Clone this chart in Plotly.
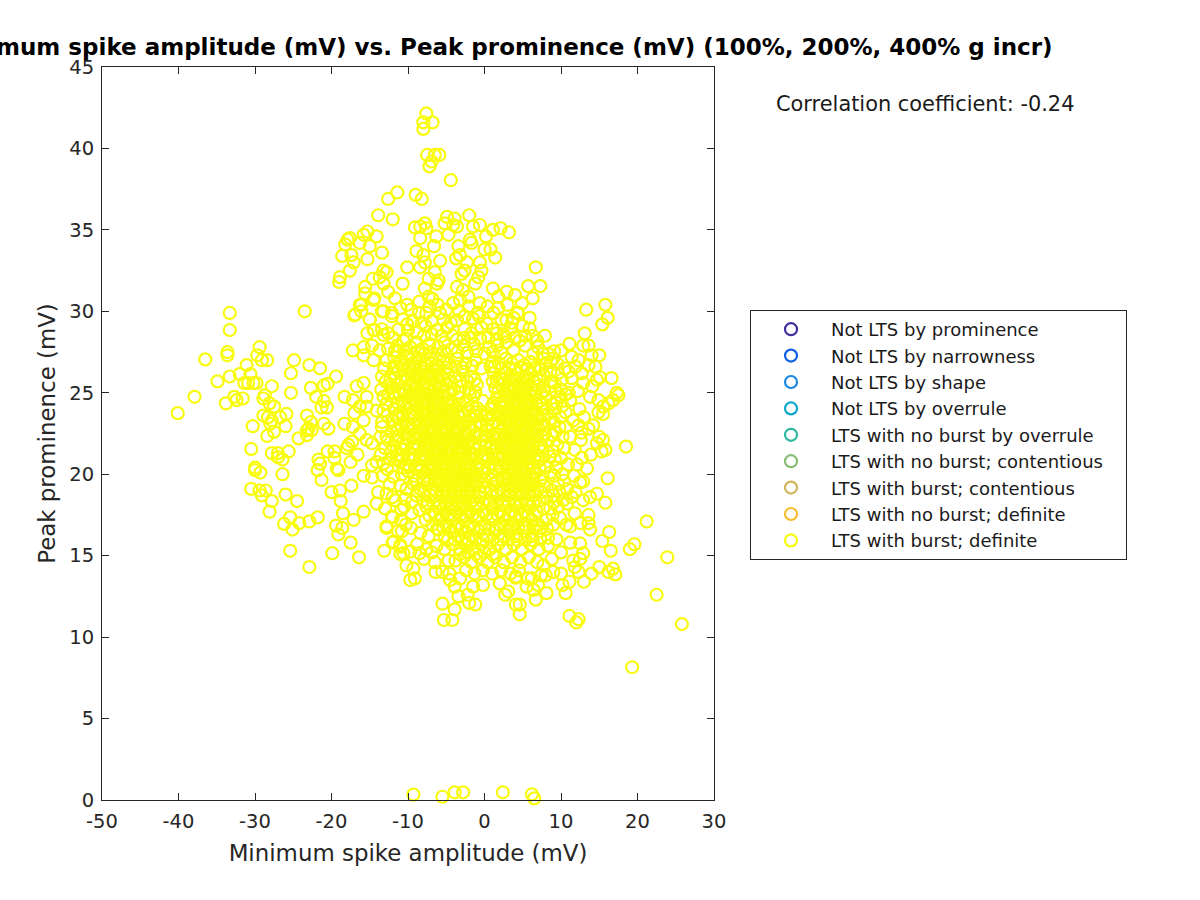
import plotly.graph_objects as go

# (minimum spike amplitude mV, peak prominence mV)
left_arm = [(-33.3,29.9),(-33.3,28.85),(-33.6,27.5),(-33.6,27.3),(-29.4,27.8),(-29.7,27.3),(-36.5,27.05),(-29.1,27.0),(-28.4,27.0),(-24.9,27.0),(-23.5,30.0),(-22.9,26.7),(-21.5,26.5),(-19.4,26.0),(-25.3,26.2),(-31.1,26.7),(-32,26.15),(-33.3,26.0),(-34.9,25.7),(-30.6,26.15),(-31.4,25.6),(-30.9,25.6),(-30.2,25.6),(-29.8,25.6),(-27.8,25.4),(-28.7,24.85),(-28.9,24.65),(-37.9,24.75),(-40.1,23.75),(-33.8,24.35),(-32.7,24.75),(-32.4,24.55),(-31.6,24.65),(-28.1,24.35),(-27.5,24.15),(-28.9,23.6),(-28.3,23.5),(-27.8,23.3),(-26.7,23.5),(-25.9,23.7),(-28.0,23.1),(-30.3,22.95),(-26,22.95),(-27.5,22.6),(-28.4,22.35),(-24.3,22.2),(-23.2,23.6),(-22.7,23.2),(-23,22.8),(-23.2,22.7),(-22.6,22.7),(-23.2,22.4),(-21,23.1),(-20.4,22.8),(-25.3,25),(-22.7,25.3),(-21,25.45),(-20.5,25.55),(-22,24.75),(-21,24.5),(-21.3,24.1),(-20.6,24.1),(-18.3,23.1),(-18.3,24.75),(-30.5,21.55),(-27.8,21.3),(-27,21.3),(-27,21.05),(-26.4,20.9),(-25.6,21.4),(-20.5,21.4),(-19.6,21.4),(-19.6,21.0),(-21.7,20.9),(-21.5,20.65),(-21.8,20.25),(-19.3,20.35),(-19.1,20.25),(-30,20.4),(-30,20.25),(-29.3,20.1),(-26.4,20),(-21.3,19.65),(-17.5,20.75),(-16.6,21.2),(-17.8,21.8),(-18,21.6),(-17.3,22),(-15.8,19.9),(-14.7,19.8),(-17.4,19.3),(-18.9,19),(-20,18.9),(-18.8,18.35),(-30.5,19.1),(-29.4,19),(-28.6,19),(-29.1,18.7),(-27.8,18.35),(-26,18.75),(-24.5,18.35),(-28.1,17.7),(-25.4,17.35),(-24.2,17),(-26.2,16.95),(-25.1,16.6),(-22.9,17.1),(-21.8,17.35),(-18.5,17.6),(-15.8,17.7),(-17.1,17.2),(-19.4,16.85),(-18.6,16.7),(-19.1,16.3),(-17.5,15.8),(-25.4,15.3),(-19.9,15.15),(-16.4,14.9),(-22.9,14.3),(-13.1,15.3),(-12,15.8),
(-16.7,25.4),(-15.8,25.6),(-15.4,24.75),(-17.2,24.55),(-16.3,24.15),(-15.4,24.15),(-14.1,23.9),(-17,23.75),(-15.8,23.3),(-13.4,23.2),(-17.2,22.9),(-16.3,22.5),(-15.4,22.1),(-14.7,21.9),(-13.6,22.3),(-12.8,22.3),(-11.9,23.3),(-13.2,24.75),(-12.8,24.35),(-11.9,24.75),(-13.4,26),(-12.3,25.8),(-17.2,27.6),(-15.8,27.8),(-15.8,27.3),(-14.7,27.9),(-14.5,27),(-13.7,27.6),(-12.8,27),(-15.3,28.65),(-14.4,28.85),(-15,29.5),(-17,29.75),(-16.1,30),(-16.1,30.4),(-14.5,30.7),(-13.2,30),(-12.1,29.7),(-12.6,28.65),(-12,28.4),(-11.7,27.6),(-11.9,26.6),(-14.1,20.75),(-13.2,20.65),(-14.7,20.55),(-13.6,21.2),(-12.3,20.9),(-11.9,19.85),(-13.9,18.9),(-12.8,18.8),(-12,18.6),(-14.1,18.2),(-13,17.9),(-11.7,18.4),(-12.1,17.4),(-12.8,16.8),(-11.3,16.5),(-11,15.55),(-11,15.1)]

top_arm = [(-7.6,42.15),(-8,41.6),(-6.8,41.6),(-8,41.2),(-7.5,39.6),(-5.9,39.6),(-6.5,39.6),(-6.9,39.2),(-7.2,38.9),(-4.4,38.05),(-11.4,37.3),(-12.6,36.9),(-9,37.15),(-8.2,36.9),(-13.9,35.9),(-12,35.65),(-2,35.9),(-4.9,35.8),(-3.9,35.7),(-9.1,35.15),(-7.8,35.4),(-8.4,35.2),(-7.6,35.1),(-5.2,35.4),(-4.1,35.3),(-3.6,35.2),(-1.5,35.2),(-0.6,35.3),(1.1,35),(2.1,35.1),(3.2,34.85),(0.2,34.6),(-8.4,34.5),(-6.3,34.6),(-4.7,34.7),(-6.6,34),(-1.9,34.4),(-1.7,34.2),(-3.4,34),(-8.9,33.7),(-8,33.45),(0,33.8),(0.8,33.8),(1.4,33.3),(-3.2,33.45),(-3.7,33.25),(-5.8,33.1),(-7.8,33),(-10.1,32.7),(-8.4,32.7),(-2.3,33),(-2.6,32.5),(-3,32.3),(-0.6,33),(-0.4,32.5),(-0.8,32.1),(6.7,32.7),(-13.4,33.6),(-15.3,33.2),(-14.1,34.6),(-15.3,34.9),(-15.8,34.7),(-15,34),(-16.3,34.2),(-17.4,33.45),(-17.1,33),(-17.6,32.5),(-17.6,34.5),(-18.2,34.1),(-18.6,33.4),(-17.9,34.4),(-18.9,32.1),(-19,31.8),(-13.2,32.5),(-12.8,32.4),(-13.7,32.1),(-14.6,32),(-15.6,31.5),(-15.6,31.1),(-14.4,30.8),(-13.2,31.7),(-12.6,31.2),(-11.7,30.8),(-10.7,31.7),(-10.1,30.4),(-16.3,30.4),(-16.9,29.8),(-15,29.5),(-14.5,28.85),(-7.3,32),(-6,31.9),(-6.5,32.4),(-7.8,31.4),(-7.3,30.9),(-6.8,30.75),(-6.2,31.7),(-3.6,31.5),(-2.8,31.3),(-1.2,31.7),(-3.2,30.7),(-2.1,30.9),(-0.6,30.5),(1.1,31.4),(1.8,30.9),(2.9,31.2),(4,31),(5.7,31.55),(7.3,31.55),(6.3,30.8),(1.2,29.9),(4.4,29.9),(5.9,29.6),(5.9,28.95),(7.9,28.5),(11.1,28),(13.1,28.65),(13.3,30.1),(-8.6,29.9),(-7.6,29.9),(-5.8,29.9),(-12.1,29.9),(-13.4,30),(-13.2,28.55),(-10,28.85),(-6.2,28.85),(-3.6,29.45),(-1.5,29.55),(2.9,29.45),(0.3,29.25),(-1.7,28.65),(1.6,28.65),(4.6,28.2),(-3.6,28.25)]

right_arm = [(15.8,30.4),(16.1,29.6),(15.4,29.2),(4.3,29.9),(12.9,27.9),(13.6,27.9),(7.6,27.4),(9.1,27.55),(11.4,27.2),(12.3,27),(14,27.3),(15,27.3),(9.5,26.8),(13.6,26.7),(14.5,26.6),(8.6,26.3),(11,26.3),(11.4,25.9),(10.1,25.8),(15.1,25.95),(14.7,25.8),(16.6,25.9),(14.1,25.4),(17.3,25),(17.5,24.85),(16.8,24.55),(16.2,24.35),(13.8,24.75),(14.9,24.55),(15.5,24.15),(14.9,23.8),(15.5,23.7),(12.4,24),(11,25),(11.2,24.55),(9.9,24.75),(11.6,23.3),(14.2,23),(13.6,22.8),(12.7,22.55),(15,22.3),(15.5,22.1),(14.7,21.9),(18.5,21.7),(15.8,21.5),(15.3,21.4),(13.9,21.2),(11.2,22.3),(11.8,21.5),(9.2,20.9),(13.4,20.35),(16.1,19.75),(12.9,19.55),(12.5,19.5),(14.7,18.8),(13.8,18.6),(15.8,18.25),(12.9,18.4),(13.6,17.5),(13.6,17),(11.8,17.6),(10.3,18.4),(8.6,17.9),(10.6,23.8),(9.8,22.9),(10.4,21.6),(10.9,20.6),(11.7,19.9),(9.6,19.4),(10.8,19.1),(9.9,17.3),(10.7,16.9)]

bottom_arm = [(-9.3,0.33),(-5.5,0.2),(-3.9,0.47),(-2.8,0.47),(2.4,0.47),(6.2,0.35),(6.5,0.1),(19.3,8.15),(25.8,10.8),(22.5,12.6),(23.9,14.9),(21.2,17.1),(19.6,15.7),(19,15.4),(16.5,15.3),(16.3,16.45),(15.4,15.9),(17.1,13.85),(16.8,14.2),(16.2,14),(15,14.3),(14,13.9),(13,13.4),(12.5,14.8),(12.9,15.15),(11.6,14.7),(11.8,14.3),(12.3,14),(11.1,13.4),(10.2,13.2),(10.6,12.7),(11.1,11.3),(12,10.9),(12.3,11.1),(10,13.9),(9,14),(8,13.8),(8.1,12.7),(6.7,12.3),(6.4,12.9),(7,13.2),(5.7,13.6),(4.6,12),(4.6,11.4),(4.1,12),(2.7,12.6),(3.1,12.8),(-1.2,12),(-2,12.1),(-2.2,12.6),(-3.4,12.5),(-3.9,11.7),(-5.5,12.05),(-5.3,11.05),(-4.2,11.05),(-3.9,13.1),(-4.5,13.5),(-5.5,14),(-6.4,14),(-9.3,14.2),(-9.1,13.6),(-9.7,13.5),(-10.2,14.4),(-8.5,15.15),(-9.7,15.25),(-10.6,15.15),(-11,15.65),(-11.9,15.85),(-10.8,16.5),(-12.8,16.7),(-12,17.35),(-9.5,18.3),(-9.5,17.6),(-8.4,16.4),(-6,16.6),(-4.7,14.7),(-3.2,13.6),(-1.5,13.1),(-0.2,13.2),(2,13.3),(5.5,13.1),(6.2,13.6),(7.7,14.4),(9.4,16),(11.2,15.8),(12.5,15.75),(13.8,16.6),(12.5,17),(11.2,16.8),(4.15,13.7),(4.05,13.65)]

core_upper = [
(-11.2,28.9),(-10.1,29.2),(-8.8,28.7),(-7.7,29.1),(-6.9,28.6),(-4.9,29),(-2.6,28.9),(-0.4,29),(3.4,28.9),(6.9,28.2),
(-11.4,27.9),(-10.6,28.2),(-9.7,27.8),(-8.9,28.1),(-8.1,27.7),(-7.2,28),(-6.1,27.8),(-5.2,28.1),(-4.3,27.7),(-2.7,27.9),(-1.4,28),(0.6,27.8),(1.7,27.9),(2.9,28.1),(3.8,27.6),(5.3,27.9),(6.4,27.4),(7.7,27.1),
(-11.8,27.2),(-11,26.9),(-10.2,27.2),(-9.4,26.8),(-8.6,27.1),(-7.8,26.8),(-7,27.1),(-6.2,26.7),(-5.4,27),(-4.6,26.8),(-3.6,27.1),(-2.5,26.8),(-1.2,27),(1,26.9),(1.9,26.8),(2.8,27.1),(3.6,26.8),(4.4,27),(5.2,26.7),(6,26.9),(7,26.6),(8,26.8),
(-12,26.2),(-11.2,26.4),(-10.4,26),(-9.6,26.3),(-8.8,26),(-8,26.3),(-7.2,26),(-6.4,26.3),(-5.6,26),(-4.8,26.2),(-3.8,26),(-2.8,26.3),(-1.8,26),(1.2,26.2),(2,25.9),(2.8,26.2),(3.6,25.9),(4.4,26.2),(5.2,25.9),(6,26.2),(6.8,25.9),(7.7,26.1),(8.8,25.7),
(-12.2,25.3),(-11.4,25.5),(-10.6,25.2),(-9.8,25.5),(-9,25.2),(-8.2,25.5),(-7.4,25.2),(-6.6,25.5),(-5.8,25.2),(-5,25.5),(-4,25.2),(-3,25.4),(-2,25.2),(-1,25.5),(1.4,25.3),(2.2,25.5),(3,25.2),(3.8,25.5),(4.6,25.2),(5.4,25.5),(6.2,25.2),(7,25.4),(7.8,25.1),(8.7,25.4),
(-11.6,24.7),(-10.8,24.5),(-10,24.8),(-9.2,24.5),(-8.4,24.8),(-7.6,24.5),(-6.8,24.8),(-6,24.5),(-5.2,24.8),(-4.4,24.5),(-3.4,24.7),(-2.4,24.5),(-1.4,24.8),(-0.2,24.5),(1.6,24.7),(2.4,24.5),(3.2,24.8),(4,24.5),(4.8,24.8),(5.6,24.5),(6.4,24.8),(7.2,24.5),(8,24.7),(8.9,24.3),
(-11.8,24),(-11,23.8),(-10.2,24.1),(-9.4,23.8),(-8.6,24.1),(-7.8,23.8),(-7,24.1),(-6.2,23.8),(-5.4,24.1),(-4.6,23.8),(-3.8,24.1),(-3,23.8),(-2.2,24),(-1.2,23.8),(0.9,24),(1.8,23.8),(2.6,24.1),(3.4,23.8),(4.2,24.1),(5,23.8),(5.8,24.1),(6.6,23.8),(7.4,24),(8.3,23.7),(9.2,24),
(-11.2,23.4),(-10.4,23.2),(-9.6,23.5),(-8.8,23.2),(-8,23.5),(-7.2,23.2),(-6.4,23.5),(-5.6,23.2),(-4.8,23.5),(-4,23.2),(-3.2,23.5),(-2.4,23.2),(-1.6,23.4),(-0.6,23.2),(0.6,23.4),(1.4,23.2),(2.2,23.5),(3,23.2),(3.8,23.5),(4.6,23.2),(5.4,23.5),(6.2,23.2),(7,23.4),(7.8,23.1),(8.7,23.4),
(-12.1,22.6),(-11.3,22.8),(-10.5,22.5),(-9.7,22.8),(-8.9,22.5),(-8.1,22.8),(-7.3,22.5),(-6.5,22.8),(-5.7,22.5),(-4.9,22.8),(-4.1,22.5),(-3.3,22.8),(-2.5,22.5),(-1.7,22.8),(-0.9,22.5),(0.3,22.7),(1.5,22.5),(2.3,22.8),(3.1,22.5),(3.9,22.8),(4.7,22.5),(5.5,22.8),(6.3,22.5),(7.1,22.8),(7.9,22.5),(8.9,22.4),
]

core_lower = [
(-11.6,22.1),(-10.8,21.9),(-10,22.2),(-9.2,21.9),(-8.4,22.2),(-7.6,21.9),(-6.8,22.2),(-6,21.9),(-5.2,22.2),(-4.4,21.9),(-3.6,22.2),(-2.8,21.9),(-2,22.1),(-1.2,21.9),(-0.3,22.1),(0.9,21.9),(1.8,22.1),(2.6,21.9),(3.4,22.2),(4.2,21.9),(5,22.2),(5.8,21.9),(6.6,22.1),(7.4,21.8),(8.3,22.1),
(-12.2,21.4),(-11.4,21.2),(-10.6,21.5),(-9.8,21.2),(-9,21.5),(-8.2,21.2),(-7.4,21.5),(-6.6,21.2),(-5.8,21.5),(-5,21.2),(-4.2,21.5),(-3.4,21.2),(-2.6,21.5),(-1.8,21.2),(-1,21.5),(0,21.2),(1.1,21.4),(2,21.2),(2.8,21.5),(3.6,21.2),(4.4,21.5),(5.2,21.2),(6,21.5),(6.8,21.2),(7.6,21.4),(8.5,21.1),
(-11.1,20.8),(-10.3,20.6),(-9.5,20.9),(-8.7,20.6),(-7.9,20.9),(-7.1,20.6),(-6.3,20.9),(-5.5,20.6),(-4.7,20.9),(-3.9,20.6),(-3.1,20.9),(-2.3,20.6),(-1.5,20.9),(-0.7,20.6),(0.2,20.8),(1.3,20.6),(2.2,20.9),(3,20.6),(3.8,20.9),(4.6,20.6),(5.4,20.9),(6.2,20.6),(7,20.8),(7.9,20.5),
(-10.8,20),(-10,20.2),(-9.2,19.9),(-8.4,20.2),(-7.6,19.9),(-6.8,20.2),(-6,19.9),(-5.2,20.2),(-4.4,19.9),(-3.6,20.2),(-2.8,19.9),(-2,20.2),(-1.2,19.9),(-0.2,20.1),(1,19.9),(1.9,20.2),(2.7,19.9),(3.5,20.2),(4.3,19.9),(5.1,20.2),(5.9,19.9),(6.7,20.1),(7.6,19.8),(8.6,20.1),
(-11,19.3),(-10.2,19.1),(-9.3,19.4),(-8.4,19.1),(-7.5,19.4),(-6.7,19.1),(-5.9,19.4),(-5.1,19.1),(-4.3,19.4),(-3.5,19.1),(-2.7,19.4),(-1.9,19.1),(-1.1,19.4),(0,19.2),(1.2,19.4),(2.1,19.1),(2.9,19.4),(3.7,19.1),(4.5,19.4),(5.3,19.1),(6.1,19.4),(6.9,19.1),(7.8,19.3),(8.8,19),
(-10.4,18.5),(-8.9,18.7),(-8,18.4),(-7.1,18.7),(-6.3,18.4),(-5.5,18.7),(-4.7,18.4),(-3.9,18.7),(-3.1,18.4),(-2.3,18.7),(-1.5,18.4),(-0.6,18.6),(0.6,18.4),(1.6,18.7),(2.4,18.4),(3.2,18.7),(4,18.4),(4.8,18.7),(5.6,18.4),(6.4,18.7),(7.2,18.4),(8.1,18.6),(9.1,18.3),
(-10.9,17.8),(-8.5,17.8),(-7.6,18),(-6.7,17.7),(-5.9,18),(-5.1,17.7),(-4.3,18),(-3.5,17.7),(-2.7,18),(-1.9,17.7),(-1.1,18),(-0.1,17.7),(1,17.9),(2,17.7),(2.8,18),(3.6,17.7),(4.4,18),(5.2,17.7),(6,18),(6.8,17.7),(7.7,17.9),
(-10.3,16.9),(-7.7,17.2),(-6.8,16.9),(-5.9,17.2),(-5,16.9),(-4.2,17.2),(-3.4,16.9),(-2.6,17.2),(-1.8,16.9),(-1,17.2),(0,16.9),(1,17.2),(1.9,16.9),(2.8,17.2),(3.6,16.9),(4.4,17.2),(5.3,16.9),(6.2,17.2),(7.1,16.9),(8.1,17.2),(9,16.9),
(-7.3,16.2),(-5.2,16.2),(-4.3,16.5),(-3.4,16.2),(-2.5,16.5),(-1.6,16.2),(-0.7,16.5),(0.3,16.2),(1.4,16.5),(2.4,16.2),(3.3,16.5),(4.2,16.2),(5.2,16.5),(6.2,16.2),(7.2,16.5),(8.3,16.1),
(-7.6,15.4),(-6.3,15.6),(-5.2,15.4),(-4.2,15.7),(-3.2,15.4),(-2.3,15.7),(-1.4,15.4),(-0.4,15.7),(0.7,15.4),(1.8,15.7),(2.8,15.4),(3.8,15.7),(4.9,15.4),(6,15.7),(7.1,15.4),(8.3,15.6),(10,15.2),
(-3.8,14.7),(-2.7,14.9),(-1.7,14.6),(-0.7,14.9),(0.4,14.6),(1.4,14.9),(2.5,14.6),(3.6,14.9),(4.7,14.6),(5.8,14.9),(6.9,14.6),(8.8,14.8),
(-4.6,13.9),(-2.4,14.1),(-1.3,13.9),(-0.2,14.1),(1,13.9),(2.2,14.1),(3.4,13.9),(4.5,14.1),(7.4,13.8),
]

dense_left_lobe = [
(-11.4,27.5),(-10.5,27.6),(-9.6,27.4),(-8.7,27.55),(-7.9,27.35),(-7,27.5),(-6.1,27.35),(-5.3,27.55),
(-11.5,26.6),(-10.7,26.7),(-9.9,26.55),(-9,26.6),(-8.3,26.55),(-7.5,26.65),(-6.7,26.5),(-5.9,26.55),(-5,26.55),
(-11.7,25.9),(-10.9,25.75),(-10,25.85),(-9.2,25.7),(-8.4,25.8),(-7.7,25.65),(-6.9,25.85),(-6.1,25.7),(-5.3,25.8),(-4.4,25.7),
(-11.9,25),(-11.1,24.95),(-10.3,25.05),(-9.5,24.95),(-8.7,25),(-7.9,24.95),(-7.1,25.05),(-6.3,24.95),(-5.5,25.05),(-4.6,24.95),
(-11.3,24.35),(-10.5,24.3),(-9.7,24.35),(-8.9,24.25),(-8.1,24.35),(-7.3,24.25),(-6.5,24.35),(-5.7,24.25),(-4.9,24.35),(-4.1,24.25),(-3.2,24.3),
(-11.5,23.55),(-10.7,23.65),(-9.9,23.65),(-9.1,23.6),(-8.3,23.7),(-7.5,23.65),(-6.7,23.65),(-5.9,23.6),(-5.1,23.65),(-4.3,23.55),(-3.5,23.65),(-2.7,23.55),
(-11.7,23),(-10.9,22.95),(-10.1,23),(-9.3,22.95),(-8.5,22.95),(-7.7,23),(-6.9,22.95),(-6.1,23),(-5.3,22.95),(-4.5,23),(-3.7,22.95),(-2.9,23),(-2.1,22.95),(-1.2,23),
(-11.2,22.35),(-10.1,22.45),(-9.3,22.35),(-8.5,22.4),(-7.7,22.35),(-6.9,22.45),(-6.1,22.35),(-5.3,22.45),(-4.5,22.35),(-3.7,22.45),(-2.9,22.35),(-2.1,22.4),(-1.3,22.35),
(-11.9,21.7),(-11,21.65),(-10.2,21.75),(-9.4,21.65),(-8.6,21.75),(-7.8,21.65),(-7,21.75),(-6.2,21.65),(-5.4,21.75),(-4.6,21.65),(-3.8,21.75),(-3,21.65),(-2.2,21.75),(-1.4,21.65),(-0.6,21.75),
(-11.5,20.95),(-10.7,21),(-9.9,21),(-9.1,20.95),(-8.3,21),(-7.5,21),(-6.7,20.95),(-5.9,21),(-5.1,20.95),(-4.3,21),(-3.5,20.95),(-2.7,21),(-1.9,20.95),(-1.1,21),
(-10.6,20.4),(-9.8,20.45),(-9,20.4),(-8.2,20.4),(-7.4,20.45),(-6.6,20.4),(-5.8,20.45),(-5,20.4),(-4.2,20.45),(-3.4,20.4),(-2.6,20.45),(-1.8,20.4),(-1,20.4),
]

dense_mid_column = [
(-8.9,19.6),(-8,19.65),(-7.2,19.6),(-6.4,19.65),(-5.6,19.65),(-4.8,19.6),(-4,19.7),(-3.2,19.65),(-2.4,19.6),(-1.6,19.7),(-0.8,19.6),
(-8.7,18.95),(-7.9,18.9),(-7.1,18.95),(-6.3,18.9),(-5.5,18.95),(-4.7,18.9),(-3.9,18.95),(-3.1,18.9),(-2.3,18.95),(-1.5,18.9),(-0.7,18.9),
(-7.5,18.2),(-6.7,18.25),(-5.9,18.2),(-5.1,18.25),(-4.3,18.2),(-3.5,18.25),(-2.7,18.2),(-1.9,18.25),(-1.1,18.2),(-0.2,18.25),
(-7.2,17.45),(-6.4,17.5),(-5.6,17.45),(-4.8,17.5),(-4,17.45),(-3.2,17.5),(-2.4,17.45),(-1.6,17.5),(-0.8,17.45),(0.2,17.5),
(-6.2,16.65),(-5.4,16.75),(-4.6,16.7),(-3.8,16.75),(-3,16.7),(-2.2,16.75),(-1.4,16.7),(-0.5,16.75),(0.6,16.7),
(-4.8,15.95),(-3.9,16),(-3,15.95),(-2.1,16),(-1.2,15.95),(-0.2,16),(1,15.95),(2.1,16),
(-3.2,15.1),(-2.2,15.2),(-1.1,15.1),(0,15.2),(1.1,15.1),
]

dense_right_lobe = [
(1.3,26.6),(2.2,26.5),(3.2,26.55),(4,26.45),(4.8,26.55),(5.6,26.45),(6.5,26.5),(7.4,26.45),
(1.6,25.75),(2.4,25.8),(3.2,25.75),(4,25.85),(4.8,25.7),(5.6,25.8),(6.4,25.7),(7.2,25.8),
(1.8,25.05),(2.6,25),(3.4,25.05),(4.2,24.95),(5,25.05),(5.8,24.95),(6.6,25),(7.4,24.95),
(1.2,24.35),(2,24.3),(2.8,24.35),(3.6,24.3),(4.4,24.35),(5.2,24.3),(6,24.35),(6.8,24.3),(7.6,24.3),
(1.1,23.65),(2.1,23.6),(2.9,23.65),(3.7,23.6),(4.5,23.65),(5.3,23.6),(6.1,23.6),(6.9,23.65),(7.7,23.6),
(1,23),(1.8,22.95),(2.6,23),(3.4,22.95),(4.2,23),(5,22.95),(5.8,23),(6.6,22.95),(7.4,23),
(1.1,22.3),(2,22.4),(2.8,22.35),(3.6,22.4),(4.4,22.35),(5.2,22.4),(6,22.35),(6.8,22.4),(7.6,22.3),
(1.5,21.7),(2.3,21.65),(3.1,21.7),(3.9,21.65),(4.7,21.7),(5.5,21.65),(6.3,21.7),(7.1,21.65),
(1.7,20.95),(2.5,21),(3.3,21),(4.1,20.95),(4.9,21),(5.7,20.95),(6.5,21),(7.4,20.95),
(1.4,20.35),(2.3,20.4),(3.1,20.35),(3.9,20.4),(4.7,20.35),(5.5,20.4),(6.3,20.35),(7.2,20.4),
(2.4,19.65),(3.2,19.7),(4,19.65),(4.8,19.7),(5.6,19.65),(6.4,19.7),(7.3,19.6),
(2.5,18.95),(3.3,18.9),(4.1,18.95),(4.9,18.9),(5.7,18.95),(6.5,18.9),(7.4,18.9),
(2.4,18.2),(3.2,18.25),(4,18.2),(4.8,18.25),(5.6,18.2),(6.4,18.25),
(2.4,17.45),(3.2,17.5),(4,17.45),(4.8,17.5),(5.7,17.45),(6.6,17.5),
]

centre_bridge = [
(-1.8,28.4),(-0.6,28.35),(0.5,28.4),(1.6,28.3),(2.7,28.45),
(-3.5,27.5),(-2.3,27.45),(-1.1,27.55),(0,27.4),(1.1,27.5),(2.2,27.45),
(-3.8,26.6),(-2.9,26.55),(-1.6,26.65),(-0.4,26.5),(0.8,26.6),
(-3.2,25.75),(-2.2,25.7),(-1.3,25.8),(1.1,25.7),
(-3.3,25),(-1.9,24.95),(-1.2,25.05),
(-1.6,24.15),(-0.9,24.05),(1,24.2),
(-1.3,23.6),(-0.5,23.65),(0.4,23.6),
(-0.4,23),(0.4,23.05),
(-0.5,22.4),(0.2,22.35),(1,22.4),
(0.1,21.7),(0.8,21.65),
(-0.3,21),(0.5,20.95),(1.1,21),
(-0.3,20.4),(0.5,20.35),
(0.1,19.6),(0.9,19.65),(1.7,19.6),
(0.1,18.9),(0.9,18.95),(1.7,18.9),
(0.7,18.2),(1.5,18.25),
(1,17.4),(1.8,17.45),
(1.6,16.7),(2.6,16.75),(3.5,16.7),(4.4,16.75),(5.4,16.7),(6.4,16.75),(7.4,16.7),(8.2,16.65),
(3.2,16),(4.3,15.95),(5.3,16),(6.3,15.95),(7.3,16),
]

outer_belts = [
(-13.4,28.9),(-12.6,27.7),(-13.1,26.5),(-12.9,25.7),(-13.5,25.2),(-12.6,24.9),(-13.2,23.9),(-12.7,23.6),(-13.4,22.9),(-12.6,22.1),(-13,21.6),(-12.7,20.3),(-13.3,19.9),(-12.4,19.4),(-10.5,18),(-10.9,17.2),(-9.6,16.7),(-8.8,15.7),(-7.9,14.8),(-6.9,15.2),(-6.5,14.6),
(8.3,27.4),(9,27.1),(10,27.6),(8.7,26.9),(9.6,26.2),(10.5,26.5),(9.2,25.6),(10,25.2),(9.3,25.1),(10.6,24.9),(9.4,24.4),(10.2,24.2),(9.9,23.5),(9.1,23.2),(10.6,22.9),(9.3,22.6),(10.2,22.3),(9.5,21.8),(9,21.4),(10,21),(9.4,20.4),(10.2,20),(9.1,19.9),(10.4,19.6),(9.8,18.9),(9,18.7),(10.8,18.2),(9.6,18),(8.9,17.5),(11.4,18.6),(11.9,18.9),(12.1,20.6),(12.7,21),(12.6,22.1),(12.3,23),(13,23.5),(12.2,25.1),(12.9,25.6),(12.7,26.2),(11.9,26.6),
(-11,30.2),(-9.6,30.1),(-8.5,30.6),(-7.2,30.3),(-6.1,30.4),(-5,30.1),(-4.1,30.5),(-3.3,30),(-2.1,30.3),(-0.9,29.9),(0.4,30.3),(1.8,30.2),(3,30.4),(3.8,29.6),(4.9,30.5),
(-10.7,29.5),(-9.4,29.4),(-8.2,29.3),(-6.9,29.4),(-5.4,29.5),(-4.4,29.3),(-2.6,29.7),(-0.7,29.7),(1.1,28.9),(2.2,29.5),(3.6,29.3),(5,29.1),(6.3,28.5),(5.3,28.5),(7,27.8),(-10.2,28.3),(-7.9,28.5),(-5.6,28.5),(-4.2,28.5),(-2.7,28.35),(-1,28.9),(2.5,28.6),(4,28.4),
]

solid_hot_spots = [
(-9.2,26.15),(-8.4,26.1),(-7.6,26.15),(-6.8,26.1),(-6,26.15),(-9.6,25.35),(-8.8,25.4),(-8,25.35),(-7.2,25.4),(-6.4,25.35),(-5.6,25.4),
(-9.4,24.6),(-8.6,24.65),(-7.8,24.6),(-7,24.65),(-6.2,24.6),(-5.4,24.65),(-9,23.95),(-8.2,23.9),(-7.4,23.95),(-6.6,23.9),(-5.8,23.95),(-5,23.9),(-4.2,23.95),
(-8.6,23.35),(-7.8,23.3),(-7,23.35),(-6.2,23.3),(-5.4,23.35),(-4.6,23.3),(-3.8,23.35),(-8.2,22.65),(-7.4,22.7),(-6.6,22.65),(-5.8,22.7),(-5,22.65),(-4.2,22.7),(-3.4,22.65),(-2.6,22.7),
(-7.8,22.05),(-7,22.05),(-6.2,22.05),(-5.4,22.05),(-4.6,22.05),(-3.8,22.05),(-3,22.05),(-2.2,22),(-7.4,21.35),(-6.6,21.35),(-5.8,21.35),(-5,21.35),(-4.2,21.35),(-3.4,21.35),(-2.6,21.35),(-1.8,21.35),
(-6.9,20.7),(-6.1,20.75),(-5.3,20.7),(-4.5,20.75),(-3.7,20.7),(-2.9,20.75),(-2.1,20.7),(-6.5,20.05),(-5.7,20.05),(-4.9,20.05),(-4.1,20.05),(-3.3,20.05),(-2.5,20.05),(-1.7,20.05),
(-5.5,19.25),(-4.7,19.3),(-3.9,19.25),(-3.1,19.3),(-2.3,19.25),(-1.5,19.3),(-5.1,18.55),(-4.3,18.55),(-3.5,18.55),(-2.7,18.55),(-1.9,18.55),(-4.7,17.85),(-3.9,17.85),(-3.1,17.85),(-2.3,17.85),
(3.2,25.4),(4,25.35),(4.8,25.4),(5.6,25.35),(3.4,24.65),(4.2,24.6),(5,24.65),(5.8,24.6),(3,23.95),(3.8,23.9),(4.6,23.95),(5.4,23.9),(6.2,23.95),
(2.6,23.35),(3.4,23.3),(4.2,23.35),(5,23.3),(5.8,23.35),(3,22.65),(3.8,22.7),(4.6,22.65),(5.4,22.7),(6.2,22.65),(2.6,22.05),(3.4,22.05),(4.2,22.05),(5,22.05),(5.8,22.05),
(3,21.35),(3.8,21.35),(4.6,21.35),(5.4,21.35),(6.2,21.35),(2.6,20.7),(3.4,20.75),(4.2,20.7),(5,20.75),(5.8,20.7),(3,20.05),(3.8,20.05),(4.6,20.05),(5.4,20.05),(3.4,19.25),(4.2,19.3),(5,19.25),(5.8,19.3),
]

contentious = [(4.1,13.7)]

def xs(*groups):
    return [p[0] for g in groups for p in g]

def ys(*groups):
    return [p[1] for g in groups for p in g]

series_names = ["Not LTS by prominence","Not LTS by narrowness","Not LTS by shape","Not LTS by overrule",
                "LTS with no burst by overrule","LTS with no burst; contentious\u00a0\u00a0\u00a0","LTS with burst; contentious",
                "LTS with no burst; definite","LTS with burst; definite"]
series_colors = ["#3D2F9E","#0F5FE0","#1B87E0","#0CA8CC","#2CB7A0","#86BE78","#D2B45A","#F9BD30","#F9FB0E"]
all_groups = (left_arm, top_arm, right_arm, bottom_arm, core_upper, core_lower,
              dense_left_lobe, dense_mid_column, dense_right_lobe, centre_bridge, outer_belts, solid_hot_spots)

x_ticks = [-50,-40,-30,-20,-10,0,10,20,30]
y_ticks = [0,5,10,15,20,25,30,35,40,45]

fig = go.Figure()
for name, color in zip(series_names, series_colors):
    if name == "LTS with burst; definite":
        x, y = xs(*all_groups), ys(*all_groups)
    elif name == "LTS with burst; contentious":
        x, y = xs(contentious), ys(contentious)
    else:
        x, y = [None], [None]
    fig.add_trace(go.Scatter(x=x, y=y, mode="markers", name=name, cliponaxis=False,
                             marker=dict(symbol="circle-open", size=12, color=color, line=dict(width=2.2, color=color))))

axis = dict(showgrid=False, zeroline=False, showline=True, linecolor="#262626", linewidth=1, mirror="ticks",
            ticks="inside", ticklen=7, tickcolor="#262626", tickwidth=1,
            tickfont=dict(family="DejaVu Sans", size=19.5, color="#262626"))
title_font = dict(family="DejaVu Sans", size=22.9, color="#262626")
fig.update_xaxes(range=[-50,30], tickvals=x_ticks, ticktext=[str(v) for v in x_ticks], ticklabelstandoff=4, **axis,
                 title=dict(text="Minimum spike amplitude (mV)", standoff=12, font=title_font))
fig.update_yaxes(range=[0,45], tickvals=y_ticks, ticktext=[str(v) for v in y_ticks], ticklabelstandoff=3, **axis,
                 title=dict(text="Peak prominence (mV)", standoff=7, font=title_font))
fig.update_layout(
    width=1200, height=900, autosize=False, paper_bgcolor="white", plot_bgcolor="white",
    margin=dict(l=102, r=486, t=67, b=100, autoexpand=False),
    legend=dict(x=(750-102)/612, y=(800-310)/733, xanchor="left", yanchor="top", bgcolor="white",
                bordercolor="#262626", borderwidth=1, itemwidth=70, itemclick=False, itemdoubleclick=False,
                font=dict(family="DejaVu Sans", size=18, color="#1a1a1a"), tracegroupgap=0),
    annotations=[
        dict(text="<b>Minimum spike amplitude (mV) vs. Peak prominence (mV) (100%, 200%, 400% g incr)</b>",
             xref="paper", yref="paper", x=(1055-102)/612, y=(800-47)/733, xanchor="right", yanchor="middle",
             showarrow=False, font=dict(family="DejaVu Sans", size=23, color="black")),
        dict(text="Correlation coefficient: -0.24", xref="paper", yref="paper", x=(774-102)/612, y=(800-104)/733,
             xanchor="left", yanchor="middle", showarrow=False, font=dict(family="DejaVu Sans", size=20.9, color="#1a1a1a")),
    ],
)
fig.write_html("out.html", config={"displayModeBar": False}, post_script="document.body.style.margin='0';")
